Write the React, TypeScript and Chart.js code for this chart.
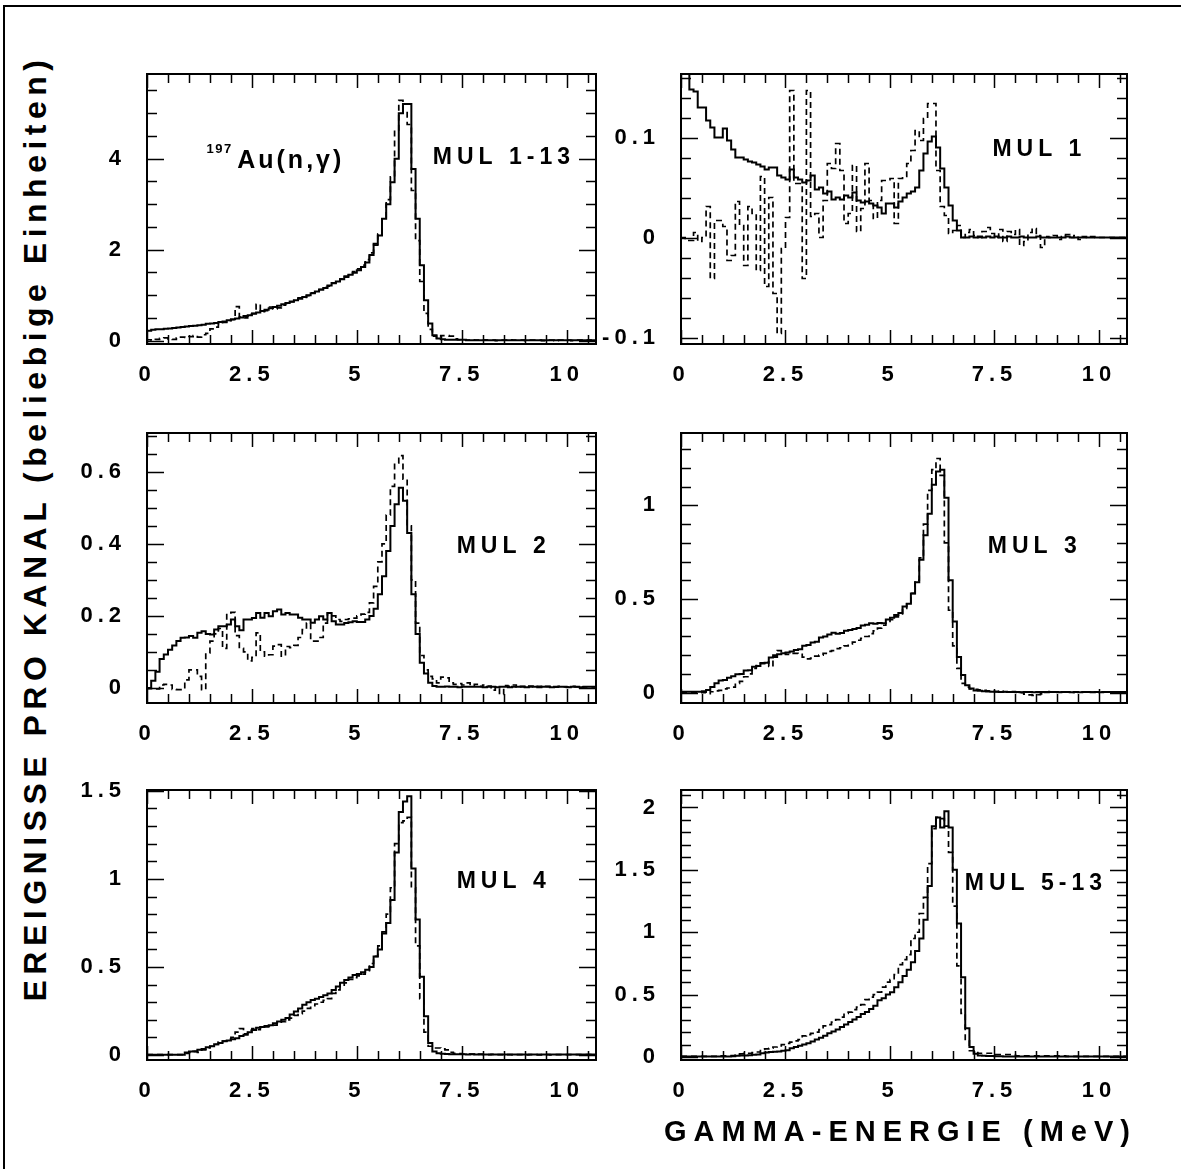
import React, { useEffect, useRef } from "react";
import { Chart, registerables } from "chart.js";

Chart.register(...registerables);

const FONT = '"Liberation Sans", Arial, Helvetica, sans-serif';
const BIN_WIDTH = 0.1; // MeV per channel, first channel starts at 0
const X_TICK_LABELS = [0, 2.5, 5, 7.5, 10];

// ---------- MUL 1-13 ----------
const mul113Solid = [
  0.15, 0.22, 0.24, 0.25, 0.25, 0.26, 0.27, 0.28, 0.29, 0.30,
  0.31, 0.32, 0.33, 0.34, 0.35, 0.37, 0.38, 0.39, 0.41, 0.42,
  0.45, 0.47, 0.49, 0.51, 0.54, 0.56, 0.59, 0.62, 0.65, 0.68,
  0.71, 0.74, 0.77, 0.80, 0.83, 0.86, 0.89, 0.92, 0.96, 1.00,
  1.04, 1.08, 1.12, 1.16, 1.21, 1.26, 1.30, 1.35, 1.40, 1.45,
  1.49, 1.55, 1.62, 1.72, 1.88, 2.13, 2.31, 2.68, 3.00, 3.48,
  4.00, 5.00, 5.20, 5.20, 3.77, 2.68, 1.66, 0.89, 0.38, 0.12,
  0.05, 0.03, 0.02, 0.02, 0.02, 0.02, 0.02, 0.01, 0.01, 0.01,
  0.01, 0.01, 0.01, 0.01, 0.01, 0.01, 0.01, 0.01, 0.01, 0.01,
  0.01, 0.01, 0.01, 0.01, 0.01, 0.01, 0.01, 0.01, 0.01, 0.01,
  0.01, 0.01, 0.01, 0.01, 0.01, 0.01, 0.01,
];
const mul113Dashed = [
  0.04, 0.02, 0.01, 0.03, 0.05, 0.06, 0.04, 0.03, 0.06, 0.08,
  0.07, 0.09, 0.11, 0.08, 0.13, 0.16, 0.26, 0.30, 0.36, 0.40,
  0.44, 0.46, 0.75, 0.52, 0.50, 0.58, 0.60, 0.80, 0.64, 0.66,
  0.74, 0.70, 0.72, 0.78, 0.82, 0.85, 0.88, 0.94, 0.95, 0.99,
  1.05, 1.07, 1.13, 1.17, 1.20, 1.27, 1.31, 1.36, 1.42, 1.47,
  1.52, 1.58, 1.66, 1.78, 1.93, 2.10, 2.35, 2.70, 3.10, 3.60,
  4.60, 5.28, 5.05, 4.75, 3.30, 2.20, 1.30, 0.60, 0.25, 0.10,
  0.06, 0.11, 0.11, 0.10, 0.04, 0.02, 0.02, 0.01, 0.02, 0.01,
  0.01, 0.02, 0.01, 0.01, 0.00, 0.01, 0.01, 0.02, 0.01, 0.01,
  0.01, 0.00, 0.01, 0.01, 0.01, 0.00, 0.01, 0.01, 0.00, 0.01,
  0.01, 0.01, 0.00, 0.01, 0.01, 0.00, 0.01,
];

// ---------- MUL 1 ----------
const mul1Solid = [
  0.075, 0.2, 0.2, 0.148, 0.146, 0.13, 0.13, 0.117, 0.11, 0.10,
  0.10, 0.109, 0.097, 0.088, 0.08, 0.08, 0.078, 0.076, 0.075, 0.073,
  0.071, 0.068, 0.07, 0.07, 0.062, 0.06, 0.058, 0.068, 0.06, 0.058,
  0.055, 0.057, 0.062, 0.048, 0.05, 0.044, 0.046, 0.038, 0.04, 0.038,
  0.042, 0.04, 0.045, 0.037, 0.035, 0.036, 0.034, 0.032, 0.03, 0.024,
  0.034, 0.034, 0.03, 0.036, 0.04, 0.044, 0.046, 0.05, 0.067, 0.084,
  0.096, 0.101, 0.09, 0.069, 0.05, 0.032, 0.017, 0.007, 0.0, 0.0,
  0.001, 0.0, 0.001, 0.0, 0.001, 0.0, 0.001, 0.0, 0.0, 0.001,
  0.0, 0.0, 0.001, 0.0, 0.0, 0.0, 0.001, 0.0, 0.0, 0.0,
  0.0, 0.0, 0.0, 0.001, 0.0, 0.0, 0.0, 0.0, 0.0, 0.0,
  0.0, 0.0, 0.0, 0.0, 0.0, 0.0, 0.0,
];
const mul1Dashed = [
  0.0, 0.0, -0.003, -0.003, 0.005, -0.004, 0.0, 0.031, -0.041, 0.017,
  0.017, 0.011, -0.023, -0.018, 0.036, 0.012, -0.028, 0.031, 0.024, -0.033,
  0.061, -0.049, 0.04, -0.056, -0.096, -0.011, 0.02, 0.147, 0.054, 0.054,
  -0.041, 0.147, 0.021, 0.024, 0.0, 0.037, 0.074, 0.069, 0.094, 0.067,
  0.014, 0.024, 0.072, 0.006, 0.029, 0.074, 0.037, 0.019, 0.037, 0.057,
  0.057, 0.059, 0.014, 0.059, 0.061, 0.074, 0.087, 0.107, 0.097, 0.119,
  0.134, 0.134, 0.067, 0.031, 0.022, 0.004, 0.007, 0.012, 0.0, 0.005,
  0.008, 0.002, 0.0, 0.006, 0.01, 0.004, 0.0, 0.008, -0.004, 0.006,
  0.003, 0.008, -0.008, -0.004, 0.005, 0.009, 0.002, -0.01, 0.001, 0.0,
  0.002, -0.002, 0.001, 0.003, 0.0, 0.002, -0.002, 0.001, 0.0, 0.001,
  0.0, 0.0, 0.0, 0.0, 0.0, 0.0, 0.0,
];

// ---------- MUL 2 ----------
const mul2Solid = [
  0.0, 0.0, 0.02, 0.045, 0.08, 0.093, 0.106, 0.118, 0.13, 0.139,
  0.14, 0.144, 0.139, 0.153, 0.157, 0.15, 0.148, 0.162, 0.171, 0.171,
  0.176, 0.19, 0.171, 0.16, 0.19, 0.19, 0.194, 0.208, 0.195, 0.208,
  0.199, 0.213, 0.218, 0.204, 0.208, 0.204, 0.204, 0.195, 0.19, 0.19,
  0.181, 0.19, 0.199, 0.19, 0.208, 0.185, 0.176, 0.176, 0.18, 0.182,
  0.185, 0.183, 0.183, 0.19, 0.2, 0.22, 0.26, 0.31, 0.38, 0.45,
  0.51, 0.556, 0.52, 0.43, 0.26, 0.15, 0.07, 0.04, 0.014, 0.005,
  0.003, 0.003, 0.004, 0.003, 0.003, 0.002, 0.003, 0.003, 0.003, 0.003,
  0.003, 0.002, 0.003, 0.003, 0.002, 0.003, 0.003, 0.002, 0.003, 0.003,
  0.003, 0.002, 0.003, 0.003, 0.002, 0.003, 0.003, 0.002, 0.003, 0.003,
  0.003, 0.002, 0.003, 0.003, 0.002, 0.003, 0.003,
];
const mul2Dashed = [
  0.0, -0.002, -0.002, -0.003, 0.008, 0.01, 0.008, -0.004, -0.005, -0.005,
  0.022, 0.05, 0.05, 0.032, -0.005, 0.097, 0.13, 0.15, 0.165, 0.11,
  0.208, 0.21, 0.145, 0.11, 0.1, 0.075, 0.085, 0.153, 0.1, 0.088,
  0.092, 0.116, 0.12, 0.088, 0.115, 0.112, 0.118, 0.14, 0.162, 0.18,
  0.13, 0.13, 0.14, 0.18, 0.208, 0.2, 0.19, 0.185, 0.19, 0.192,
  0.194, 0.2, 0.205, 0.21, 0.236, 0.282, 0.35, 0.40, 0.48, 0.56,
  0.625, 0.645, 0.58, 0.45, 0.30, 0.18, 0.09, 0.05, 0.032, 0.025,
  0.014, 0.03, 0.028, 0.014, 0.01, 0.012, 0.008, 0.014, 0.006, 0.01,
  0.004, 0.008, 0.005, -0.006, 0.002, -0.018, 0.006, 0.004, 0.008, 0.002,
  0.004, 0.002, 0.005, 0.003, 0.004, 0.002, 0.004, 0.003, 0.002, 0.004,
  0.003, 0.002, 0.004, 0.003, 0.002, 0.003, 0.003,
];

// ---------- MUL 3 ----------
const mul3Solid = [
  0.005, 0.005, 0.005, 0.005, 0.005, 0.005, 0.008, 0.014, 0.03, 0.05,
  0.065, 0.068, 0.08, 0.088, 0.098, 0.1, 0.118, 0.12, 0.138, 0.142,
  0.158, 0.16, 0.188, 0.19, 0.205, 0.21, 0.215, 0.22, 0.228, 0.232,
  0.25, 0.255, 0.268, 0.272, 0.295, 0.3, 0.31, 0.32, 0.315, 0.318,
  0.33, 0.335, 0.34, 0.345, 0.358, 0.362, 0.37, 0.368, 0.372, 0.37,
  0.39, 0.4, 0.415, 0.425, 0.46, 0.475, 0.53, 0.59, 0.71, 0.84,
  0.955, 1.11, 1.18, 1.19, 1.04, 0.6, 0.38, 0.19, 0.094, 0.04,
  0.023, 0.012, 0.01, 0.008, 0.006, 0.005, 0.005, 0.004, 0.005, 0.004,
  0.004, 0.004, 0.003, 0.004, 0.004, 0.003, 0.004, 0.004, 0.003, 0.004,
  0.004, 0.003, 0.004, 0.004, 0.003, 0.004, 0.003, 0.004, 0.004, 0.003,
  0.004, 0.003, 0.004, 0.004, 0.003, 0.004, 0.004,
];
const mul3Dashed = [
  0.003, 0.003, 0.003, 0.003, 0.003, 0.003, 0.0, -0.005, 0.005, 0.01,
  0.012, 0.02, 0.025, 0.03, 0.05, 0.06, 0.085, 0.1, 0.13, 0.145,
  0.155, 0.165, 0.14, 0.2, 0.225, 0.21, 0.205, 0.21, 0.21, 0.205,
  0.19, 0.18, 0.185, 0.195, 0.2, 0.21, 0.22, 0.225, 0.235, 0.24,
  0.25, 0.26, 0.27, 0.28, 0.29, 0.3, 0.315, 0.33, 0.345, 0.36,
  0.375, 0.39, 0.405, 0.42, 0.45, 0.48, 0.53, 0.6, 0.72, 0.9,
  1.08, 1.19, 1.25, 1.16, 0.8, 0.44, 0.25, 0.13, 0.05, 0.03,
  0.02, 0.018, 0.015, 0.012, 0.01, 0.008, 0.006, 0.008, 0.005, 0.004,
  0.006, 0.002, 0.0, -0.008, -0.012, -0.014, -0.01, -0.006, 0.004, 0.006,
  0.003, 0.004, 0.005, 0.003, 0.002, 0.004, 0.005, 0.003, 0.004, 0.003,
  0.004, 0.003, 0.004, 0.003, 0.004, 0.003, 0.004,
];

// ---------- MUL 4 ----------
const mul4Solid = [
  0.002, 0.002, 0.002, 0.002, 0.002, 0.002, 0.002, 0.002, 0.002, 0.002,
  0.015, 0.02, 0.022, 0.03, 0.034, 0.045, 0.05, 0.062, 0.068, 0.078,
  0.083, 0.09, 0.096, 0.108, 0.115, 0.13, 0.143, 0.155, 0.16, 0.165,
  0.17, 0.18, 0.19, 0.2, 0.21, 0.23, 0.247, 0.265, 0.285, 0.3,
  0.313, 0.32, 0.33, 0.34, 0.35, 0.37, 0.39, 0.41, 0.426, 0.44,
  0.455, 0.46, 0.47, 0.485, 0.5, 0.56, 0.6, 0.69, 0.75, 0.88,
  1.15, 1.38, 1.44, 1.47, 1.06, 0.77, 0.445, 0.22, 0.068, 0.02,
  0.011, 0.008, 0.006, 0.005, 0.005, 0.004, 0.004, 0.003, 0.004, 0.003,
  0.003, 0.003, 0.003, 0.003, 0.003, 0.003, 0.003, 0.003, 0.003, 0.003,
  0.003, 0.003, 0.003, 0.003, 0.003, 0.003, 0.003, 0.003, 0.003, 0.003,
  0.003, 0.003, 0.003, 0.003, 0.003, 0.003, 0.003,
];
const mul4Dashed = [
  0.002, 0.002, 0.002, 0.002, 0.002, 0.002, 0.002, 0.002, 0.002, 0.002,
  0.01, 0.015, 0.02, 0.015, 0.03, 0.04, 0.05, 0.06, 0.075, 0.08,
  0.09, 0.1, 0.13, 0.15, 0.12, 0.14, 0.15, 0.145, 0.16, 0.16,
  0.165, 0.17, 0.18, 0.19, 0.2, 0.21, 0.225, 0.235, 0.25, 0.265,
  0.28, 0.29, 0.3, 0.31, 0.32, 0.35, 0.37, 0.39, 0.41, 0.43,
  0.44, 0.45, 0.46, 0.48, 0.52, 0.56, 0.62, 0.7, 0.8, 0.95,
  1.2, 1.32, 1.33, 1.35, 0.95, 0.62, 0.32, 0.13, 0.05, 0.04,
  0.04, 0.035, 0.03, 0.015, 0.01, 0.008, 0.006, 0.006, 0.005, 0.004,
  0.005, 0.004, 0.003, 0.004, 0.002, 0.003, 0.002, 0.002, 0.001, 0.002,
  0.002, 0.001, 0.002, 0.002, 0.001, 0.002, 0.002, 0.001, 0.002, 0.002,
  0.002, 0.002, 0.002, 0.002, 0.002, 0.002, 0.002,
];

// ---------- MUL 5-13 ----------
const mul513Solid = [
  0.005, 0.005, 0.005, 0.005, 0.005, 0.005, 0.005, 0.005, 0.005, 0.005,
  0.005, 0.005, 0.005, 0.006, 0.01, 0.012, 0.013, 0.015, 0.018, 0.02,
  0.03, 0.036, 0.04, 0.042, 0.045, 0.05, 0.055, 0.07, 0.08, 0.09,
  0.1, 0.11, 0.125, 0.14, 0.155, 0.17, 0.19, 0.205, 0.22, 0.24,
  0.26, 0.28, 0.3, 0.32, 0.345, 0.36, 0.385, 0.41, 0.455, 0.47,
  0.5, 0.52, 0.56, 0.6, 0.65, 0.7, 0.76, 0.85, 0.95, 1.1,
  1.37, 1.85, 1.92, 1.84, 1.97, 1.84, 1.5, 1.07, 0.64, 0.23,
  0.08, 0.027, 0.012, 0.01, 0.008, 0.008, 0.006, 0.006, 0.005, 0.005,
  0.005, 0.005, 0.005, 0.005, 0.005, 0.005, 0.005, 0.005, 0.005, 0.005,
  0.005, 0.005, 0.005, 0.005, 0.005, 0.005, 0.005, 0.005, 0.005, 0.005,
  0.005, 0.005, 0.005, 0.005, 0.005, 0.005, 0.005,
];
const mul513Dashed = [
  0.005, 0.005, 0.005, 0.005, 0.005, 0.005, 0.005, 0.005, 0.005, 0.005,
  0.01, 0.01, 0.01, 0.012, 0.015, 0.025, 0.03, 0.03, 0.035, 0.04,
  0.06, 0.065, 0.07, 0.08, 0.09, 0.1, 0.11, 0.12, 0.13, 0.14,
  0.17, 0.18, 0.19, 0.2, 0.22, 0.25, 0.26, 0.28, 0.3, 0.32,
  0.35, 0.36, 0.38, 0.4, 0.42, 0.46, 0.48, 0.5, 0.52, 0.56,
  0.6, 0.62, 0.66, 0.74, 0.78, 0.82, 0.95, 1.0, 1.15, 1.28,
  1.55, 1.83, 1.92, 1.91, 1.85, 1.64, 1.21, 0.73, 0.35, 0.13,
  0.05, 0.05, 0.03, 0.03, 0.03, 0.03, 0.02, 0.02, 0.02, 0.02,
  0.02, 0.01, 0.01, 0.01, 0.01, 0.01, 0.01, 0.01, 0.01, 0.01,
  0.01, 0.01, 0.01, 0.005, 0.005, 0.005, 0.005, 0.005, 0.005, 0.005,
  0.005, 0.005, 0.005, 0.005, 0.005, 0.005, 0.005,
];

// ---------- layout of the six panels ----------
type Note = { text: string; x: number; y: number; size: number; spacing: number };
type PanelDef = {
  key: string;
  solid: number[];
  dashed: number[];
  frame: { left: number; top: number; width: number; height: number };
  xMax: number;
  yMin: number;
  yMax: number;
  yLabels: number[];
  yMinor: number;
  yMajor: number;
  notes: Note[];
};

const PANELS: PanelDef[] = [
  {
    key: "p1", solid: mul113Solid, dashed: mul113Dashed,
    frame: { left: 147, top: 74, width: 449, height: 270 },
    xMax: 10.7, yMin: -0.073, yMax: 5.86, yLabels: [0, 2, 4], yMinor: 0.5, yMajor: 2,
    notes: [
      { text: "MUL 1-13", x: 6.81, y: 4.02, size: 23, spacing: 5 },
      { text: "197", x: 1.42, y: 4.21, size: 13, spacing: 1.5 },
      { text: "Au(n,\u03B3)", x: 2.15, y: 3.95, size: 25, spacing: 3 },
    ],
  },
  {
    key: "p2", solid: mul1Solid, dashed: mul1Dashed,
    frame: { left: 681, top: 74, width: 446, height: 270 },
    xMax: 10.67, yMin: -0.1065, yMax: 0.1635, yLabels: [-0.1, 0, 0.1], yMinor: 0.02, yMajor: 0.1,
    notes: [{ text: "MUL 1", x: 7.45, y: 0.0875, size: 23, spacing: 5 }],
  },
  {
    key: "p3", solid: mul2Solid, dashed: mul2Dashed,
    frame: { left: 147, top: 433, width: 449, height: 270 },
    xMax: 10.7, yMin: -0.042, yMax: 0.708, yLabels: [0, 0.2, 0.4, 0.6], yMinor: 0.05, yMajor: 0.2,
    notes: [{ text: "MUL 2", x: 7.38, y: 0.392, size: 23, spacing: 5 }],
  },
  {
    key: "p4", solid: mul3Solid, dashed: mul3Dashed,
    frame: { left: 681, top: 433, width: 446, height: 270 },
    xMax: 10.67, yMin: -0.055, yMax: 1.386, yLabels: [0, 0.5, 1], yMinor: 0.1, yMajor: 0.5,
    notes: [{ text: "MUL 3", x: 7.34, y: 0.78, size: 23, spacing: 5 }],
  },
  {
    key: "p5", solid: mul4Solid, dashed: mul4Dashed,
    frame: { left: 147, top: 790, width: 449, height: 270 },
    xMax: 10.7, yMin: -0.028, yMax: 1.505, yLabels: [0, 0.5, 1, 1.5], yMinor: 0.1, yMajor: 0.5,
    notes: [{ text: "MUL 4", x: 7.38, y: 0.983, size: 23, spacing: 5 }],
  },
  {
    key: "p6", solid: mul513Solid, dashed: mul513Dashed,
    frame: { left: 681, top: 790, width: 446, height: 270 },
    xMax: 10.67, yMin: -0.024, yMax: 2.14, yLabels: [0, 0.5, 1, 1.5, 2], yMinor: 0.1, yMajor: 0.5,
    notes: [{ text: "MUL 5-13", x: 6.79, y: 1.386, size: 23, spacing: 5 }],
  },
];

const X_MINOR = 0.5;
const X_MAJOR = 2.5;
const PAD_L = 80;
const PAD_R = 20;
const PAD_T = 40;
const PAD_B = 50;
const TICK_SPACING = "5px";

function toSteps(values: number[]) {
  const pts = values.map((v, i) => ({ x: Math.round(i * BIN_WIDTH * 100) / 100, y: v }));
  pts.push({
    x: Math.round(values.length * BIN_WIDTH * 100) / 100,
    y: values[values.length - 1],
  });
  return pts;
}

function isMultiple(v: number, step: number) {
  const r = v / step;
  return Math.abs(r - Math.round(r)) < 1e-6;
}

function makePanelPlugin(p: PanelDef) {
  return {
    id: "panelFrame_" + p.key,
    beforeLayout(chart: any) {
      chart.ctx.letterSpacing = TICK_SPACING;
    },
    beforeDraw(chart: any) {
      chart.ctx.letterSpacing = TICK_SPACING;
    },
    afterDraw(chart: any) {
      const { ctx, chartArea: a } = chart;
      const xs = chart.scales.x;
      const ys = chart.scales.y;
      ctx.save();
      ctx.strokeStyle = "#000";
      ctx.lineWidth = 1.5;
      ctx.beginPath();
      for (let k = Math.ceil(xs.min / X_MINOR); k * X_MINOR <= xs.max + 1e-9; k++) {
        const v = k * X_MINOR;
        const px = Math.round(xs.getPixelForValue(v)) + 0.5;
        const len = isMultiple(v, X_MAJOR) ? 14 : 9;
        ctx.moveTo(px, a.bottom);
        ctx.lineTo(px, a.bottom - len);
        ctx.moveTo(px, a.top);
        ctx.lineTo(px, a.top + len);
      }
      for (let k = Math.ceil(ys.min / p.yMinor - 1e-9); k * p.yMinor <= ys.max + 1e-9; k++) {
        const v = k * p.yMinor;
        const py = Math.round(ys.getPixelForValue(v)) + 0.5;
        const len = isMultiple(v, p.yMajor) ? 17 : 10;
        ctx.moveTo(a.left, py);
        ctx.lineTo(a.left + len, py);
        ctx.moveTo(a.right, py);
        ctx.lineTo(a.right - len, py);
      }
      ctx.stroke();
      ctx.lineWidth = 2;
      ctx.strokeRect(a.left, a.top, a.right - a.left, a.bottom - a.top);
      ctx.fillStyle = "#000";
      ctx.textAlign = "left";
      ctx.textBaseline = "middle";
      for (const n of p.notes) {
        ctx.font = `bold ${n.size}px ${FONT}`;
        ctx.letterSpacing = `${n.spacing}px`;
        ctx.fillText(n.text, xs.getPixelForValue(n.x), ys.getPixelForValue(n.y));
      }
      ctx.restore();
      ctx.letterSpacing = TICK_SPACING;
    },
  };
}

function Panel({ p }: { p: PanelDef }) {
  const ref = useRef<HTMLCanvasElement | null>(null);
  const w = p.frame.width + PAD_L + PAD_R;
  const h = p.frame.height + PAD_T + PAD_B;

  useEffect(() => {
    if (!ref.current) return;
    const tickFont = { family: FONT, weight: "bold" as const, size: 22 };
    const chart = new Chart(ref.current, {
      type: "line",
      data: {
        datasets: [
          {
            data: toSteps(p.dashed),
            stepped: "after",
            borderColor: "#000",
            borderWidth: 1.7,
            borderDash: [6, 4],
            pointRadius: 0,
            fill: false,
          },
          {
            data: toSteps(p.solid),
            stepped: "after",
            borderColor: "#000",
            borderWidth: 2,
            pointRadius: 0,
            fill: false,
          },
        ],
      },
      options: {
        animation: false,
        responsive: false,
        devicePixelRatio: 1,
        events: [],
        layout: { padding: { top: PAD_T, right: PAD_R, left: 0, bottom: 0 } },
        plugins: { legend: { display: false }, tooltip: { enabled: false } },
        scales: {
          x: {
            type: "linear",
            min: 0,
            max: p.xMax,
            grid: { display: false, drawTicks: false },
            border: { display: false },
            afterBuildTicks: (s: any) => {
              s.ticks = X_TICK_LABELS.map((v) => ({ value: v }));
            },
            afterFit: (s: any) => {
              s.height = PAD_B;
            },
            ticks: {
              color: "#000",
              font: tickFont,
              padding: 18,
              maxRotation: 0,
              autoSkip: false,
              callback: (v: any) => String(v),
            },
          },
          y: {
            type: "linear",
            min: p.yMin,
            max: p.yMax,
            grid: { display: false, drawTicks: false },
            border: { display: false },
            afterBuildTicks: (s: any) => {
              s.ticks = p.yLabels.map((v) => ({ value: v }));
            },
            afterFit: (s: any) => {
              s.width = PAD_L;
            },
            ticks: {
              color: "#000",
              font: tickFont,
              padding: 21,
              autoSkip: false,
              callback: (v: any) => String(v),
            },
          },
        },
      } as any,
      plugins: [makePanelPlugin(p)],
    } as any);
    return () => chart.destroy();
  }, [p]);

  return (
    <canvas
      ref={ref}
      width={w}
      height={h}
      style={{
        position: "absolute",
        left: p.frame.left - PAD_L,
        top: p.frame.top - PAD_T,
        width: w,
        height: h,
      }}
    />
  );
}

export default function App() {
  return (
    <div
      style={{
        position: "absolute",
        left: 0,
        top: 0,
        width: 1181,
        height: 1169,
        overflow: "hidden",
        background: "#fff",
      }}
    >
      <div
        style={{
          position: "absolute",
          left: 3,
          top: 5,
          width: 1200,
          height: 1200,
          borderTop: "2px solid #000",
          borderLeft: "2px solid #000",
        }}
      />
      {PANELS.map((p) => (
        <Panel key={p.key} p={p} />
      ))}
      <div
        style={{
          position: "absolute",
          left: 35,
          top: 528,
          transform: "translate(-50%, -50%) rotate(-90deg)",
          font: `bold 32px ${FONT}`,
          letterSpacing: "5.5px",
          whiteSpace: "nowrap",
          lineHeight: 1,
          color: "#000",
        }}
      >
        EREIGNISSE PRO KANAL (beliebige Einheiten)
      </div>
      <div
        style={{
          position: "absolute",
          left: 664,
          top: 1131,
          transform: "translateY(-50%)",
          font: `bold 29px ${FONT}`,
          letterSpacing: "7px",
          whiteSpace: "nowrap",
          lineHeight: 1,
          color: "#000",
        }}
      >
        GAMMA-ENERGIE (MeV)
      </div>
    </div>
  );
}
